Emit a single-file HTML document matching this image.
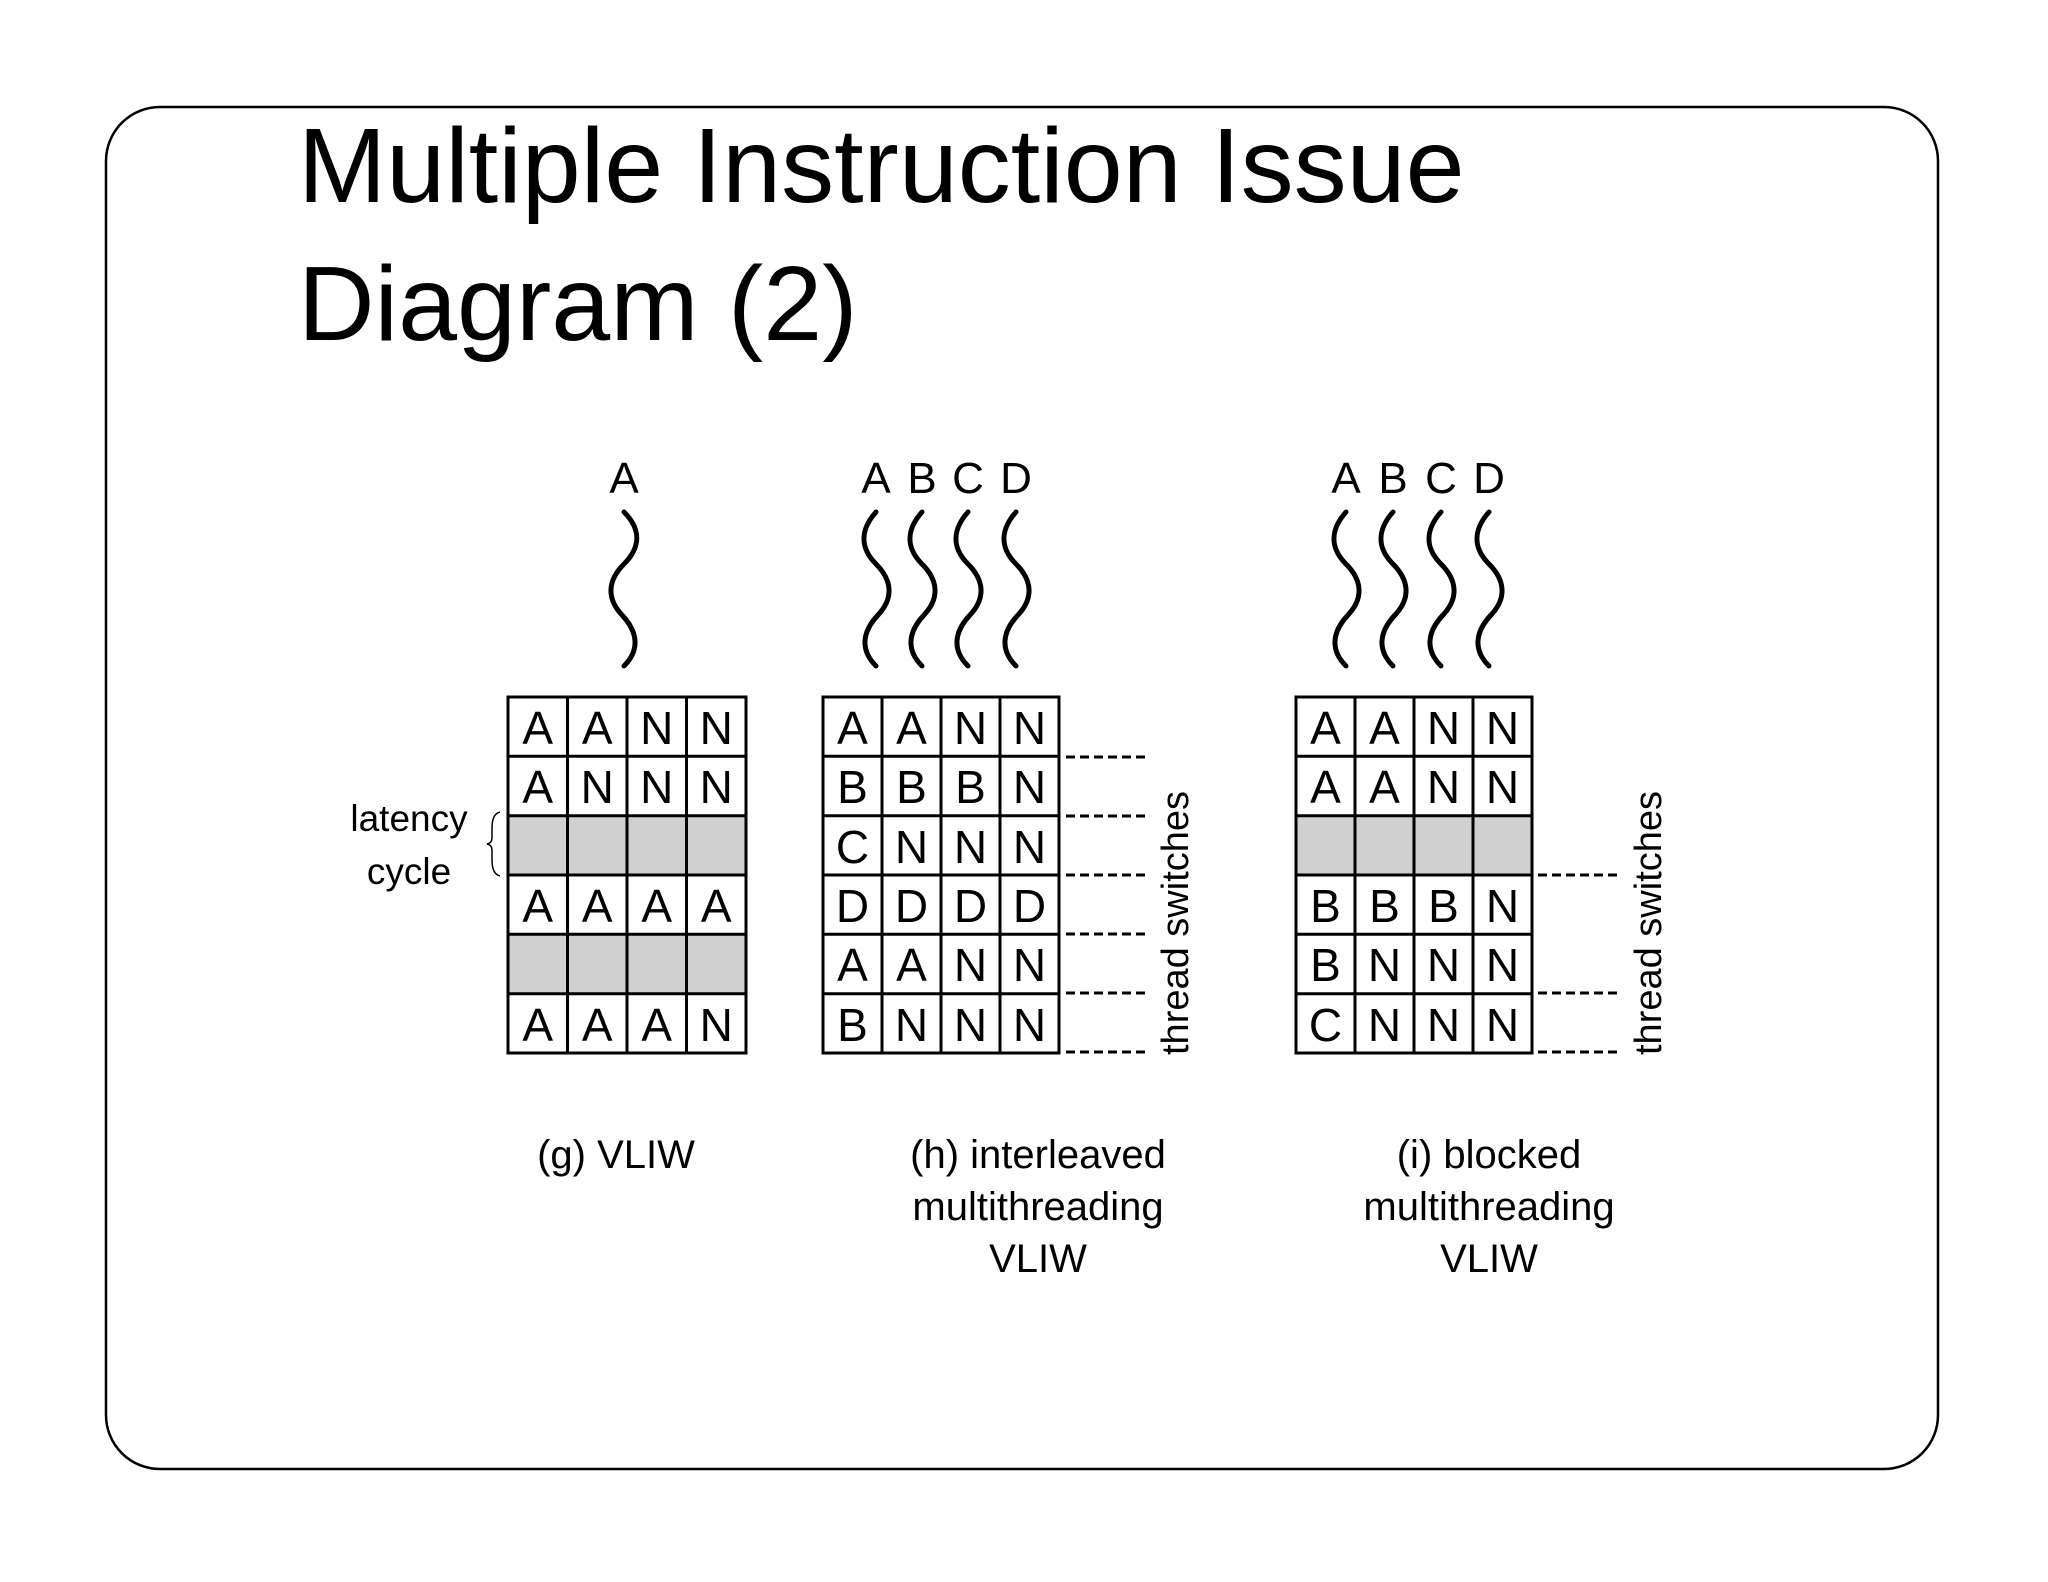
<!DOCTYPE html>
<html><head><meta charset="utf-8"><style>
html,body{margin:0;padding:0;background:#fff}
svg{display:block}
text{font-family:"Liberation Sans",sans-serif;fill:#000}
.c{font-size:46px;text-anchor:middle}
.t{font-size:44px;text-anchor:middle}
.cap{font-size:40px;text-anchor:middle}
</style></head><body>
<svg width="2048" height="1582" viewBox="0 0 2048 1582" xmlns="http://www.w3.org/2000/svg">
<rect x="106" y="107" width="1832" height="1362" rx="54" ry="54" fill="#fff" stroke="#000" stroke-width="2.5"/>
<text x="298" y="202" style="font-size:106px">Multiple Instruction Issue</text>
<text x="298" y="340" style="font-size:106px">Diagram (2)</text>

<!-- thread labels -->
<text class="t" x="624" y="493">A</text>
<text class="t" x="876" y="493">A</text><text class="t" x="922" y="493">B</text><text class="t" x="968" y="493">C</text><text class="t" x="1016" y="493">D</text>
<text class="t" x="1346" y="493">A</text><text class="t" x="1393" y="493">B</text><text class="t" x="1441" y="493">C</text><text class="t" x="1489" y="493">D</text>

<g fill="none" stroke="#000" stroke-width="5" stroke-linecap="round">
<path d="M624,512 C642,530 640,548 624,564 S606,598 622,615 S640,650 624,666"/>
<path d="M876,512 C860,530 860,548 876,564 S894,598 878,615 S860,650 876,666"/>
<path d="M922,512 C906,530 906,548 922,564 S940,598 924,615 S906,650 922,666"/>
<path d="M968,512 C952,530 952,548 968,564 S986,598 970,615 S952,650 968,666"/>
<path d="M1016,512 C1000,530 1000,548 1016,564 S1034,598 1018,615 S1000,650 1016,666"/>
<path d="M1346,512 C1330,530 1330,548 1346,564 S1364,598 1348,615 S1330,650 1346,666"/>
<path d="M1393,512 C1377,530 1377,548 1393,564 S1411,598 1395,615 S1377,650 1393,666"/>
<path d="M1441,512 C1425,530 1425,548 1441,564 S1459,598 1443,615 S1425,650 1441,666"/>
<path d="M1489,512 C1473,530 1473,548 1489,564 S1507,598 1491,615 S1473,650 1489,666"/>
</g>

<!-- gray rows -->
<rect x="508" y="815.7" width="238" height="59.3" fill="#d0d0d0"/>
<rect x="508" y="934.3" width="238" height="59.3" fill="#d0d0d0"/>
<rect x="1296" y="815.7" width="236" height="59.3" fill="#d0d0d0"/>

<!-- grids -->
<g fill="none" stroke="#000" stroke-width="3">
<rect x="508" y="697" width="238" height="356"/>
<path d="M567.5,697V1053M627,697V1053M686.5,697V1053M508,756.3H746M508,815.7H746M508,875H746M508,934.3H746M508,993.7H746"/>
<rect x="823" y="697" width="236" height="356"/>
<path d="M882,697V1053M941,697V1053M1000,697V1053M823,756.3H1059M823,815.7H1059M823,875H1059M823,934.3H1059M823,993.7H1059"/>
<rect x="1296" y="697" width="236" height="356"/>
<path d="M1355,697V1053M1414,697V1053M1473,697V1053M1296,756.3H1532M1296,815.7H1532M1296,875H1532M1296,934.3H1532M1296,993.7H1532"/>
</g>

<!-- dashed lines -->
<g stroke="#000" stroke-width="3" stroke-dasharray="9,5">
<path d="M1066,757H1150M1066,816H1150M1066,875H1150M1066,934H1150M1066,993H1150M1066,1052H1150"/>
<path d="M1538,875H1622M1538,993H1622M1538,1052H1622"/>
</g>
<text transform="translate(1188,1055) rotate(-90)" style="font-size:38px">thread switches</text>
<text transform="translate(1661,1055) rotate(-90)" style="font-size:38px">thread switches</text>

<!-- latency -->
<text x="409" y="831" style="font-size:37px;text-anchor:middle">latency</text>
<text x="409" y="884" style="font-size:37px;text-anchor:middle">cycle</text>
<path d="M500,812 Q492,814 492,828 L492,838 Q492,843 487,844 Q492,845 492,850 L492,860 Q492,874 500,876" fill="none" stroke="#000" stroke-width="1.5"/>

<!-- cell letters g -->
<text class="c" x="537.75" y="744">A</text><text class="c" x="597.25" y="744">A</text><text class="c" x="656.75" y="744">N</text><text class="c" x="716.25" y="744">N</text>
<text class="c" x="537.75" y="803">A</text><text class="c" x="597.25" y="803">N</text><text class="c" x="656.75" y="803">N</text><text class="c" x="716.25" y="803">N</text>
<text class="c" x="537.75" y="922">A</text><text class="c" x="597.25" y="922">A</text><text class="c" x="656.75" y="922">A</text><text class="c" x="716.25" y="922">A</text>
<text class="c" x="537.75" y="1041">A</text><text class="c" x="597.25" y="1041">A</text><text class="c" x="656.75" y="1041">A</text><text class="c" x="716.25" y="1041">N</text>
<!-- h -->
<text class="c" x="852.5" y="744">A</text><text class="c" x="911.5" y="744">A</text><text class="c" x="970.5" y="744">N</text><text class="c" x="1029.5" y="744">N</text>
<text class="c" x="852.5" y="803">B</text><text class="c" x="911.5" y="803">B</text><text class="c" x="970.5" y="803">B</text><text class="c" x="1029.5" y="803">N</text>
<text class="c" x="852.5" y="863">C</text><text class="c" x="911.5" y="863">N</text><text class="c" x="970.5" y="863">N</text><text class="c" x="1029.5" y="863">N</text>
<text class="c" x="852.5" y="922">D</text><text class="c" x="911.5" y="922">D</text><text class="c" x="970.5" y="922">D</text><text class="c" x="1029.5" y="922">D</text>
<text class="c" x="852.5" y="981">A</text><text class="c" x="911.5" y="981">A</text><text class="c" x="970.5" y="981">N</text><text class="c" x="1029.5" y="981">N</text>
<text class="c" x="852.5" y="1041">B</text><text class="c" x="911.5" y="1041">N</text><text class="c" x="970.5" y="1041">N</text><text class="c" x="1029.5" y="1041">N</text>
<!-- i -->
<text class="c" x="1325.5" y="744">A</text><text class="c" x="1384.5" y="744">A</text><text class="c" x="1443.5" y="744">N</text><text class="c" x="1502.5" y="744">N</text>
<text class="c" x="1325.5" y="803">A</text><text class="c" x="1384.5" y="803">A</text><text class="c" x="1443.5" y="803">N</text><text class="c" x="1502.5" y="803">N</text>
<text class="c" x="1325.5" y="922">B</text><text class="c" x="1384.5" y="922">B</text><text class="c" x="1443.5" y="922">B</text><text class="c" x="1502.5" y="922">N</text>
<text class="c" x="1325.5" y="981">B</text><text class="c" x="1384.5" y="981">N</text><text class="c" x="1443.5" y="981">N</text><text class="c" x="1502.5" y="981">N</text>
<text class="c" x="1325.5" y="1041">C</text><text class="c" x="1384.5" y="1041">N</text><text class="c" x="1443.5" y="1041">N</text><text class="c" x="1502.5" y="1041">N</text>

<!-- captions -->
<text class="cap" x="616" y="1168">(g) VLIW</text>
<text class="cap" x="1038" y="1168">(h) interleaved</text>
<text class="cap" x="1038" y="1220">multithreading</text>
<text class="cap" x="1038" y="1272">VLIW</text>
<text class="cap" x="1489" y="1168">(i) blocked</text>
<text class="cap" x="1489" y="1220">multithreading</text>
<text class="cap" x="1489" y="1272">VLIW</text>
</svg>
</body></html>
